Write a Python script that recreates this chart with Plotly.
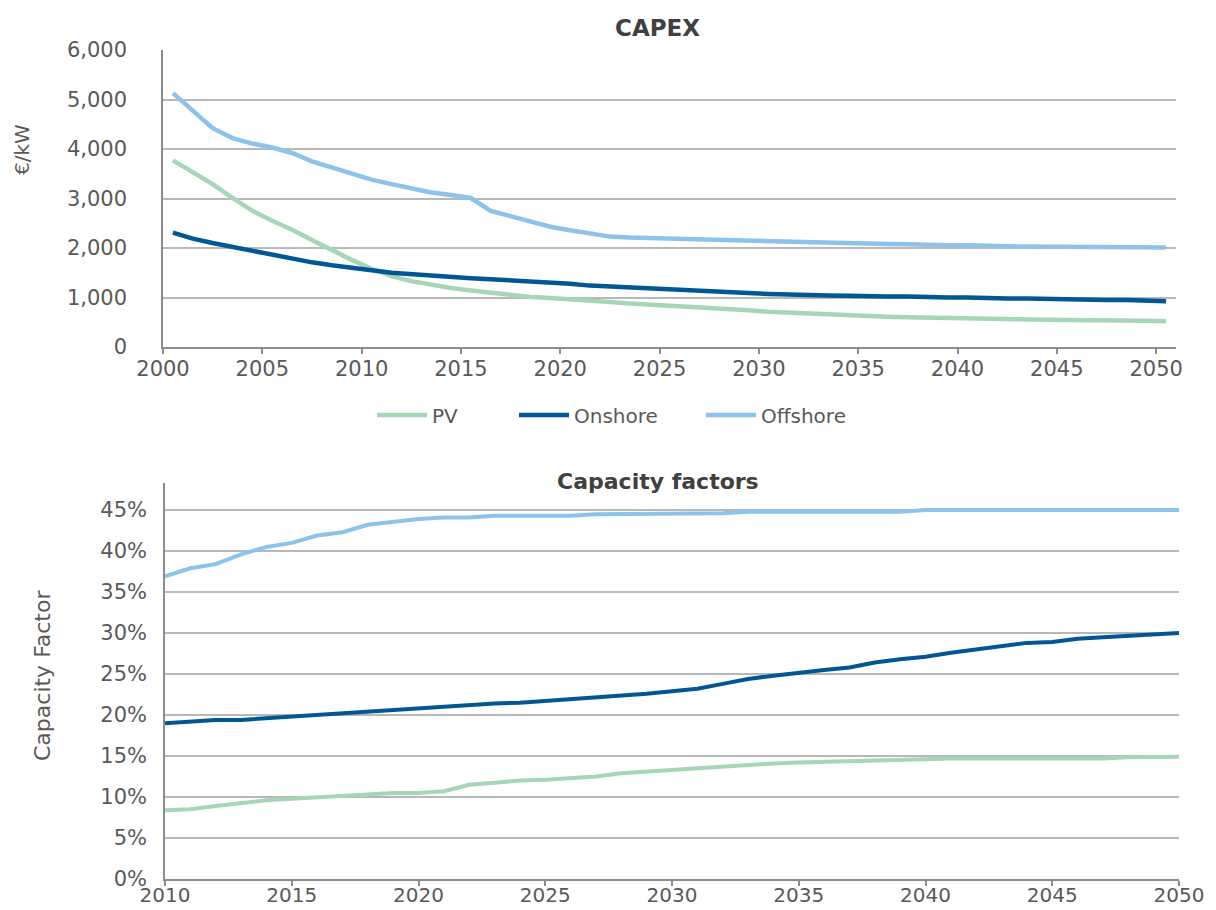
import plotly.graph_objects as go

# ---- data -------------------------------------------------------------
capex_years = list(range(2000, 2051))
capex_pv = [3770, 3530, 3290, 3010, 2750, 2550, 2370, 2160, 1950, 1760,
            1580, 1430, 1330, 1250, 1190, 1140, 1090, 1040, 1010, 990,
            970, 940, 910, 880, 860, 830, 810, 790, 760, 740,
            710, 690, 680, 670, 640, 630, 610, 600, 590, 580,
            570, 565, 560, 555, 550, 545, 545, 545, 545, 530, 520]
capex_onshore = [2310, 2190, 2100, 2020, 1930, 1860, 1780, 1710, 1650, 1610,
                 1550, 1500, 1470, 1430, 1410, 1390, 1370, 1350, 1320, 1300,
                 1280, 1240, 1220, 1200, 1180, 1160, 1140, 1110, 1110, 1090,
                 1070, 1060, 1040, 1040, 1035, 1020, 1020, 1020, 1000, 1000,
                 1000, 980, 980, 980, 970, 950, 950, 950, 950, 930, 925]
capex_offshore = [5130, 4780, 4420, 4220, 4110, 4030, 3920, 3750, 3620, 3490,
                  3380, 3290, 3200, 3120, 3070, 3010, 2750, 2640, 2530, 2430,
                  2360, 2300, 2230, 2210, 2200, 2180, 2160, 2160, 2140, 2140,
                  2130, 2120, 2110, 2100, 2100, 2080, 2080, 2075, 2060, 2055,
                  2055, 2055, 2035, 2030, 2030, 2030, 2030, 2015, 2010, 2010, 2010]

cf_years = list(range(2010, 2051))
cf_pv = [8.4, 8.5, 8.9, 9.3, 9.6, 9.8, 10.0, 10.2, 10.4, 10.5,
         10.5, 10.7, 11.5, 11.8, 12.0, 12.1, 12.3, 12.5, 12.9, 13.1,
         13.4, 13.6, 13.8, 13.9, 14.1, 14.2, 14.3, 14.4, 14.4, 14.5,
         14.7, 14.7, 14.7, 14.7, 14.7, 14.7, 14.7, 14.7, 14.85, 14.85, 14.9]
cf_onshore = [19.0, 19.2, 19.4, 19.4, 19.6, 19.8, 20.0, 20.2, 20.5, 20.7,
              20.9, 21.0, 21.2, 21.4, 21.5, 21.7, 22.0, 22.2, 22.4, 22.6,
              22.9, 23.2, 23.8, 24.4, 24.8, 25.2, 25.5, 25.8, 26.4, 26.8,
              27.1, 27.6, 28.0, 28.4, 28.8, 28.9, 29.3, 29.5, 29.7, 29.85, 30.0]
cf_offshore = [36.9, 37.9, 38.4, 39.6, 40.5, 41.0, 41.9, 42.3, 43.2, 43.6,
               43.9, 44.1, 44.1, 44.3, 44.3, 44.3, 44.3, 44.5, 44.5, 44.5,
               44.5, 44.5, 44.6, 44.8, 44.8, 44.8, 44.8, 44.8, 44.8, 44.8,
               45.0, 45.0, 45.0, 45.0, 45.0, 45.0, 45.0, 45.0, 45.0, 45.0, 45.0]

capex_tick_years = list(range(2000, 2051, 5))
cf_tick_years = list(range(2010, 2051, 5))
cf_tick_values = list(range(0, 50, 5))

series_names = ["PV", "Onshore", "Offshore"]
colors = {"PV": "#a6d6b8", "Onshore": "#005794", "Offshore": "#8cc3eb"}

# ---- figure -------------------------------------------------------------
W, H = 1216, 910
FONT = "DejaVu Sans"
TXT = "#595959"
GRID = "#b8b8b8"
AXIS = "#8c8c8c"

fig = go.Figure()

capex = {"PV": capex_pv, "Onshore": capex_onshore, "Offshore": capex_offshore}
cf = {"PV": cf_pv, "Onshore": cf_onshore, "Offshore": cf_offshore}

for i, name in enumerate(series_names):
    fig.add_trace(go.Scatter(
        x=capex_years, y=capex[name], name=name, mode="lines",
        line=dict(color=colors[name], width=4.5),
        xaxis="x", yaxis="y",
        legend="legend" if i == 0 else f"legend{i + 1}",
    ))
for name in series_names:
    fig.add_trace(go.Scatter(
        x=cf_years, y=[v / 100 for v in cf[name]], name=name, mode="lines",
        line=dict(color=colors[name], width=4),
        xaxis="x2", yaxis="y2", showlegend=False,
    ))

def px_x(p):
    return p / W

def px_y(p):
    return 1 - p / H

legend_common = dict(orientation="h", yanchor="middle", xanchor="left",
                     y=px_y(415), bgcolor="rgba(0,0,0,0)",
                     font=dict(family=FONT, size=20, color=TXT),
                     itemwidth=50)

fig.update_layout(
    width=W, height=H,
    margin=dict(l=0, r=0, t=0, b=0, autoexpand=False),
    paper_bgcolor="white", plot_bgcolor="white",
    font=dict(family=FONT, color=TXT),
    legend=dict(x=px_x(372), **legend_common),
    legend2=dict(x=px_x(514), **legend_common),
    legend3=dict(x=px_x(701), **legend_common),
    xaxis=dict(
        domain=[px_x(163), px_x(1176)], anchor="y", automargin=False,
        range=[1999.5, 2050.5],
        tickvals=[y - 0.5 for y in capex_tick_years],
        ticktext=[str(y) for y in capex_tick_years],
        ticks="outside", ticklen=5, tickcolor=AXIS, tickwidth=1.5,
        ticklabelstandoff=-3,
        showline=True, linecolor=AXIS, linewidth=1.5,
        showgrid=False, zeroline=False,
        tickfont=dict(family=FONT, size=21, color=TXT),
    ),
    yaxis=dict(
        domain=[px_y(347), px_y(50)], anchor="x", automargin=False,
        range=[0, 6000], dtick=1000, tickformat=",",
        ticks="", ticklabelstandoff=30,
        showline=True, linecolor=AXIS, linewidth=1.5,
        showgrid=True, gridcolor=GRID, gridwidth=1.5, zeroline=False,
        tickfont=dict(family=FONT, size=21, color=TXT),
    ),
    xaxis2=dict(
        domain=[px_x(165), px_x(1179)], anchor="y2", automargin=False,
        range=[2010, 2050],
        tickvals=cf_tick_years,
        ticks="outside", ticklen=5, tickcolor=AXIS, tickwidth=1.5,
        ticklabelstandoff=-8,
        showline=True, linecolor=AXIS, linewidth=1.5,
        showgrid=False, zeroline=False,
        tickfont=dict(family=FONT, size=20, color=TXT),
    ),
    yaxis2=dict(
        domain=[px_y(879), px_y(483)], anchor="x2", automargin=False,
        range=[0, 0.483],
        tickvals=[v / 100 for v in cf_tick_values],
        ticktext=[f"{v}%" for v in cf_tick_values],
        ticks="", ticklabelstandoff=12,
        showline=True, linecolor=AXIS, linewidth=1.5,
        showgrid=True, gridcolor=GRID, gridwidth=1.5, zeroline=False,
        tickfont=dict(family=FONT, size=21, color=TXT),
    ),
    annotations=[
        dict(text="<b>CAPEX</b>", x=px_x(658), y=px_y(28), xref="paper", yref="paper",
             xanchor="center", yanchor="middle", showarrow=False,
             font=dict(family=FONT, size=23, color="#404040")),
        dict(text="<b>Capacity factors</b>", x=px_x(658), y=px_y(481),
             xref="paper", yref="paper", xanchor="center", yanchor="middle",
             showarrow=False, font=dict(family=FONT, size=22, color="#404040")),
        dict(text="€/kW", x=px_x(22), y=px_y(150), xref="paper", yref="paper",
             xanchor="center", yanchor="middle", textangle=-90, showarrow=False,
             font=dict(family=FONT, size=20, color=TXT)),
        dict(text="Capacity Factor", x=px_x(42), y=px_y(676), xref="paper", yref="paper",
             xanchor="center", yanchor="middle", textangle=-90, showarrow=False,
             font=dict(family=FONT, size=22, color=TXT)),
    ],
)

fig.write_html("out.html")
